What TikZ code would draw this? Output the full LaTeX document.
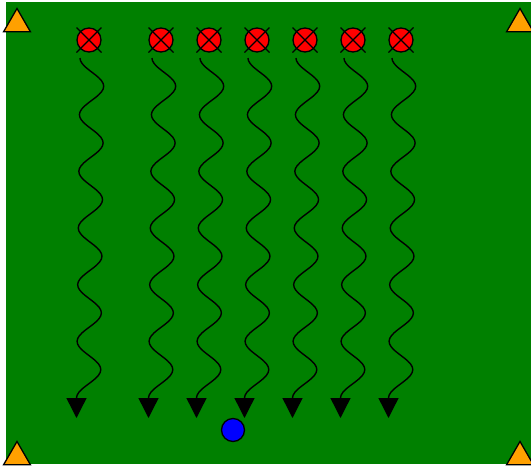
\documentclass[tikz,border=0pt]{standalone}
\usetikzlibrary{arrows.meta,shapes.geometric}
\definecolor{field}{RGB}{0,128,0}
\definecolor{cone}{RGB}{255,160,0}
\tikzset{
  cone/.style={regular polygon,regular polygon sides=3,draw=black,line width=1.3pt,fill=cone,minimum size=31pt,inner sep=0pt},
  player/.style={circle,draw=black,line width=1.3pt,fill=red,minimum size=24pt,inner sep=0pt},
  ball/.style={circle,draw=black,line width=1.3pt,fill=blue,minimum size=23pt,inner sep=0pt},
  dribble/.style={line width=1.4pt,-{Triangle[width=20pt,length=20pt]}}
}
\begin{document}
\begin{tikzpicture}[x=1pt,y=-1pt]
\useasboundingbox (0,0) rectangle (531,469);
\fill[field] (6,2) rectangle (531,464);
\node[cone] (c1) at (17,24) {};
\node[cone] (c2) at (520,24) {};
\node[cone] (c3) at (17,457) {};
\node[cone] (c4) at (520,457) {};
\foreach \i/\x in {1/89,2/161,3/209,4/257,5/305,6/353,7/401}{
  \node[player] (p\i) at (\x,40) {};
  \draw[line width=1.3pt] ([shift={(-12.5,-12.5)}]p\i.center) -- ([shift={(12.5,12.5)}]p\i.center)
                          ([shift={(12.5,-12.5)}]p\i.center) -- ([shift={(-12.5,12.5)}]p\i.center);
  \coordinate (s\i) at (\x-9,58);
  \coordinate (e\i) at (\x-12.5,418);
  \draw[dribble] (s\i) -- plot[smooth,domain=0:340,samples=121,variable=\t]
      ({\x-9-3.5*\t/340+12-12*cos(\t*6.3529)},{58+\t}) -- (e\i);
}
\node[ball] (b) at (233,430) {};
\end{tikzpicture}
\end{document}
